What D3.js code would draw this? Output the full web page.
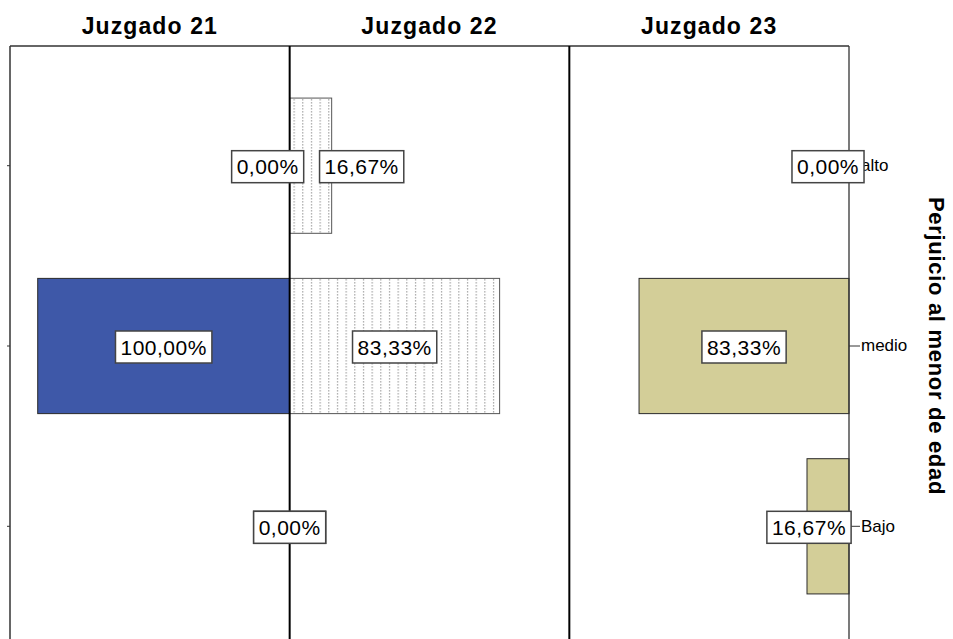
<!DOCTYPE html>
<html>
<head>
<meta charset="utf-8">
<script src="https://cdn.jsdelivr.net/npm/d3@7"></script>
<style>
  body { margin: 0; background: #fff; }
  text { font-family: "Liberation Sans", Arial, sans-serif; }
</style>
</head>
<body>
<svg width="953" height="639"></svg>
<script>
// data
var panels = ["Juzgado 21", "Juzgado 22", "Juzgado 23"];
var categories = ["alto", "medio", "Bajo"];
var j21 = [0, 100, 0];
var j22 = [16.67, 83.33, 0];
var j23 = [0, 83.33, 16.67];
var axisTitle = "Perjuicio al menor de edad";

var values = [j21, j22, j23];

var svg = d3.select("svg"),
    width = +svg.attr("width"),
    height = +svg.attr("height");

var top0 = 46, left0 = 10, right0 = 849;

var px = d3.scaleBand().domain(panels).range([left0, right0]);
var pw = px.bandwidth();

var y = d3.scaleBand()
    .domain(categories)
    .range([53, 639])
    .paddingInner(0.25)
    .paddingOuter(0.25);

var x = d3.scaleLinear().domain([0, 111]).range([0, pw]);

// which way bars grow in each panel
var dir = {"Juzgado 21": -1, "Juzgado 22": 1, "Juzgado 23": -1};
var fills = {"Juzgado 21": "#3e58a8", "Juzgado 22": "url(#dots)", "Juzgado 23": "#d3ce98"};
// labels SPSS pushed aside to avoid collisions
var nudge = {"Juzgado 21|alto": -22, "Juzgado 22|alto": 51, "Juzgado 23|alto": -21, "Juzgado 23|Bajo": -19};

function base(p) {
  return dir[p] < 0 ? px(p) + pw : px(p);
}

var defs = svg.append("defs");
var pat = defs.append("pattern")
    .attr("id", "dots")
    .attr("patternUnits", "userSpaceOnUse")
    .attr("x", px("Juzgado 22"))
    .attr("width", 8.67)
    .attr("height", 3);
pat.append("rect").attr("width", 8.67).attr("height", 3).attr("fill", "#fff");
pat.append("rect").attr("x", 4).attr("y", 0).attr("width", 1).attr("height", 1.6).attr("fill", "#9a9a9a");

// frame
svg.append("line").attr("x1", left0).attr("x2", right0).attr("y1", top0).attr("y2", top0)
    .attr("stroke", "#333").attr("stroke-width", 1.5);
svg.append("line").attr("x1", left0).attr("x2", left0).attr("y1", top0).attr("y2", height)
    .attr("stroke", "#333").attr("stroke-width", 1.5);

// panel titles
svg.append("g").selectAll("text")
    .data(panels)
    .enter().append("text")
    .attr("x", function(d) { return px(d) + pw / 2; })
    .attr("y", 34)
    .attr("text-anchor", "middle")
    .style("font-size", "23px")
    .style("font-weight", "bold")
    .style("letter-spacing", "1.1px")
    .text(function(d) { return d; });

// bars
var rows = [];
panels.forEach(function(p, i) {
  categories.forEach(function(c, j) {
    rows.push({panel: p, cat: c, value: values[i][j]});
  });
});

svg.append("g").selectAll("rect")
    .data(rows.filter(function(d) { return d.value > 0; }))
    .enter().append("rect")
    .attr("x", function(d) { return dir[d.panel] < 0 ? base(d.panel) - x(d.value) : base(d.panel); })
    .attr("y", function(d) { return y(d.cat); })
    .attr("width", function(d) { return x(d.value); })
    .attr("height", y.bandwidth())
    .attr("fill", function(d) { return fills[d.panel]; })
    .attr("stroke", function(d) { return d.panel == "Juzgado 22" ? "#555" : "#2a2a2a"; })
    .attr("stroke-width", 1);

// panel dividers
svg.append("line").attr("x1", px("Juzgado 22")).attr("x2", px("Juzgado 22")).attr("y1", top0).attr("y2", height)
    .attr("stroke", "#000").attr("stroke-width", 2);
svg.append("line").attr("x1", px("Juzgado 23")).attr("x2", px("Juzgado 23")).attr("y1", top0).attr("y2", height)
    .attr("stroke", "#000").attr("stroke-width", 2);

// axes
var axR = svg.append("g")
    .attr("transform", "translate(" + right0 + ",0)")
    .call(d3.axisRight(y).tickSize(11).tickPadding(1));
axR.select(".domain").attr("stroke", "#333").attr("stroke-width", 1.3)
    .attr("d", "M0," + top0 + "V" + height);
axR.selectAll(".tick line").attr("stroke", "#333");
axR.selectAll(".tick text")
    .attr("fill", "#000")
    .style("font-size", "17px")
    .style("font-family", "'Liberation Sans', Arial, sans-serif");

var axL = svg.append("g")
    .attr("transform", "translate(" + left0 + ",0)")
    .call(d3.axisLeft(y).tickSize(3).tickFormat(""));
axL.select(".domain").remove();
axL.selectAll(".tick line").attr("stroke", "#333");

svg.append("text")
    .attr("transform", "translate(929," + (y("medio") + y.bandwidth() / 2) + ") rotate(90)")
    .attr("text-anchor", "middle")
    .style("font-size", "22px")
    .style("font-weight", "bold")
    .style("letter-spacing", "0.7px")
    .text(axisTitle);

// value labels
var fmt = function(v) { return d3.format(".2f")(v).replace(".", ",") + "%"; };

var lab = svg.append("g").selectAll("g")
    .data(rows)
    .enter().append("g")
    .attr("transform", function(d) {
      var cx = base(d.panel) + dir[d.panel] * x(d.value) / 2 + (nudge[d.panel + "|" + d.cat] || 0);
      var cy = y(d.cat) + y.bandwidth() / 2 + 1;
      return "translate(" + cx + "," + cy + ")";
    });

lab.append("text")
    .attr("text-anchor", "middle")
    .attr("dy", "0.36em")
    .style("font-size", "21px")
    .style("letter-spacing", "0.5px")
    .text(function(d) { return fmt(d.value); });

lab.each(function() {
  var g = d3.select(this);
  var bb = g.select("text").node().getBBox();
  g.insert("rect", "text")
    .attr("x", bb.x - 5)
    .attr("y", -16)
    .attr("width", bb.width + 10)
    .attr("height", 32)
    .attr("fill", "#fff")
    .attr("stroke", "#444")
    .attr("stroke-width", 1.5);
});
</script>
</body>
</html>
